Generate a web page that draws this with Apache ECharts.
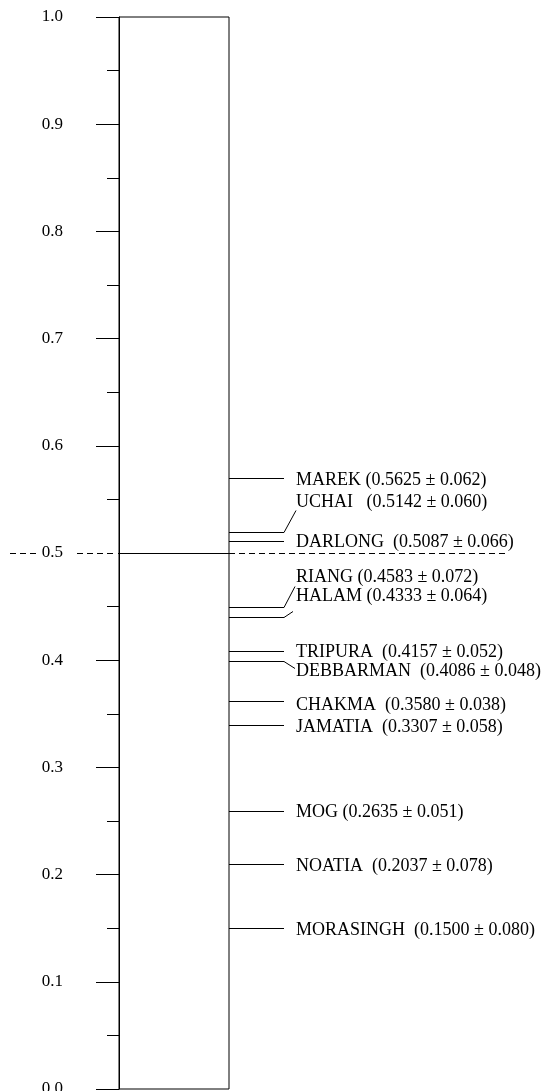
<!DOCTYPE html>
<html>
<head>
<meta charset="utf-8">
<script src="https://cdn.jsdelivr.net/npm/echarts@6/dist/echarts.min.js"></script>
<style>
  html, body { margin: 0; padding: 0; background: #fff; }
  #scale { width: 544px; height: 1091px; }
</style>
</head>
<body>
<div id="scale"></div>
<script>
  // tribes with the estimate and its s.e. as printed next to them
  const tribes = ['MAREK', 'UCHAI', 'DARLONG', 'RIANG', 'HALAM', 'TRIPURA', 'DEBBARMAN', 'CHAKMA', 'JAMATIA', 'MOG', 'NOATIA', 'MORASINGH']
  const means = ['0.5625', '0.5142', '0.5087', '0.4583', '0.4333', '0.4157', '0.4086', '0.3580', '0.3307', '0.2635', '0.2037', '0.1500']
  const errors = ['0.062', '0.060', '0.066', '0.072', '0.064', '0.052', '0.048', '0.038', '0.058', '0.051', '0.078', '0.080']
  // where each marker is drawn on the scale in the figure
  const marks = [0.570, 0.520, 0.511, 0.450, 0.440, 0.409, 0.399, 0.362, 0.340, 0.259, 0.210, 0.150]
  const refValue = 0.5
  const scaleMin = 0
  const scaleMax = 1

  // layout only: spaces before the bracket, label shift (px), leader bend (px)
  const gaps = [1, 3, 2, 1, 1, 2, 2, 2, 2, 1, 2, 2]
  const labelDy = [2, -30, 1, -30, -21, 1, 10, 4, 2, 1, 2, 2]
  const bends = [null, [12, -22], null, [11, -21], [9, -6], null, [11, 7], null, null, null, null, null]

  const serif = '"Liberation Serif", "Times New Roman", serif'
  const chart = echarts.init(document.getElementById('scale'))

  const px = v => Math.round(v) + 0.5

  chart.setOption({
    animation: false,
    grid: {
      left: 119, right: 315, top: 17, bottom: 2,
      containLabel: false,
      outerBoundsMode: 'none',
      show: true, borderColor: '#000', borderWidth: 1
    },
    xAxis: { type: 'value', min: 0, max: 1, show: false },
    yAxis: {
      type: 'value',
      min: scaleMin,
      max: scaleMax,
      interval: 0.1,
      splitLine: { show: false },
      axisLine: { show: true, lineStyle: { color: '#000', width: 1 } },
      axisTick: { show: true, length: 23, lineStyle: { color: '#000', width: 1 } },
      minorTick: { show: true, splitNumber: 2, length: 12, lineStyle: { color: '#000', width: 1 } },
      axisLabel: {
        margin: 56,
        fontFamily: serif,
        fontSize: 17,
        color: '#000',
        formatter: v => v.toFixed(1)
      }
    },
    series: [
      {
        // the 0.5 reference line
        type: 'custom',
        clip: false,
        silent: true,
        data: [[0, refValue]],
        renderItem: (params, api) => {
          const left = api.coord([0, api.value(1)])
          const right = api.coord([1, api.value(1)])
          const y = px(left[1])
          const x0 = Math.round(left[0])
          const x1 = Math.round(right[0])
          const dash = { stroke: '#000', lineWidth: 1, lineDash: [6, 4] }
          return {
            type: 'group',
            children: [
              { type: 'rect', shape: { x: x0 - 25, y: y - 3, width: 24, height: 6 }, style: { fill: '#fff' } },
              { type: 'line', shape: { x1: 10, y1: y, x2: 40, y2: y }, style: dash },
              { type: 'line', shape: { x1: 77, y1: y, x2: x0 - 5, y2: y }, style: dash },
              { type: 'line', shape: { x1: x0, y1: y, x2: x1, y2: y }, style: { stroke: '#000', lineWidth: 1 } },
              { type: 'line', shape: { x1: x1, y1: y, x2: x1 + 276, y2: y }, style: dash }
            ]
          }
        }
      },
      {
        // marker lines and labels on the right of the box
        type: 'custom',
        clip: false,
        silent: true,
        data: marks.map((m, i) => [1, m, i]),
        renderItem: (params, api) => {
          const i = api.value(2)
          const p = api.coord([1, api.value(1)])
          const x = Math.round(p[0])
          const y = px(p[1])
          const pts = [[x, y], [x + 55, y]]
          if (bends[i]) pts.push([x + 55 + bends[i][0], y + bends[i][1]])
          const text = tribes[i] + '\u00a0'.repeat(gaps[i]) + '(' + means[i] + ' \u00b1 ' + errors[i] + ')'
          return {
            type: 'group',
            children: [
              { type: 'polyline', shape: { points: pts }, style: { stroke: '#000', lineWidth: 1, fill: null } },
              {
                type: 'text',
                style: {
                  text: text,
                  x: x + 67,
                  y: y + labelDy[i],
                  fontFamily: serif,
                  fontSize: 18,
                  fill: '#000',
                  align: 'left',
                  verticalAlign: 'middle'
                }
              }
            ]
          }
        }
      }
    ]
  })
</script>
</body>
</html>
